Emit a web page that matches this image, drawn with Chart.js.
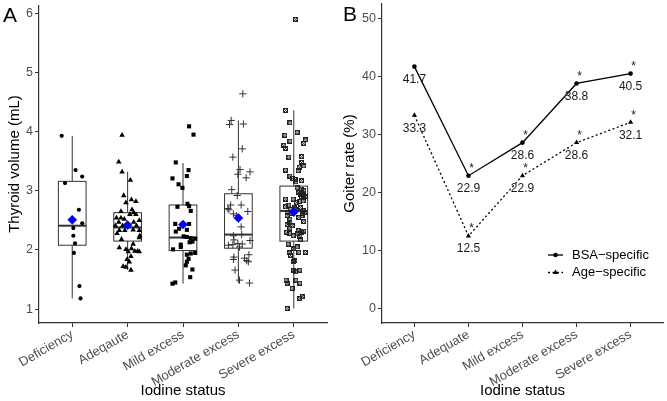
<!DOCTYPE html>
<html><head><meta charset="utf-8">
<script src="https://cdn.jsdelivr.net/npm/chart.js@4.4.0/dist/chart.umd.min.js"></script>
<style>html,body{margin:0;padding:0;background:#fff}
#wrap{position:relative;width:667px;height:401px;background:#fff}
canvas{position:absolute;top:0}
#ca{left:0}#cb{left:333px}</style></head>
<body><div id="wrap"><canvas id="ca" width="333" height="401"></canvas><canvas id="cb" width="334" height="401"></canvas></div>
<script>
const FONT = '"Liberation Sans", Arial, Helvetica, sans-serif';

// ---------- data ----------
const categoriesA = ['Deficiency', 'Adeqaute', 'Mild excess', 'Moderate excess', 'Severe excess'];
const categoriesB = ['Deficiency', 'Adequate', 'Mild excess', 'Moderate excess', 'Severe excess'];
const yTicksA = [1, 2, 3, 4, 5, 6];
const yTicksB = [0, 10, 20, 30, 40, 50];

// thyroid volume (mL) per child, and horizontal jitter (category units)
const volDeficiency = [3.93, 3.35, 3.24, 3.13, 2.68, 2.45, 2.37, 2.24, 2.11, 1.95, 1.39, 1.18];
const jitDeficiency = [-0.19, 0.06, 0.18, -0.13, 0.12, 0.18, 0.02, 0.02, 0.05, 0.03, 0.13, 0.15];

const volAdequate = [3.94, 3.49, 3.32, 3.18, 2.92, 2.85, 2.82, 2.80, 2.65, 2.68, 2.63, 2.60, 2.60, 2.54, 2.54, 2.52, 2.50, 2.47, 2.47, 2.41, 2.41, 2.41, 2.33, 2.33, 2.34, 2.33, 2.28, 2.24, 2.18, 2.21, 2.10, 2.04, 2.01, 2.02, 1.98, 1.98, 1.97, 1.97, 1.89, 1.84, 1.80, 1.72, 1.71, 1.66];
const jitAdequate = [-0.10, -0.16, -0.10, 0.05, -0.07, 0.07, 0.15, -0.03, -0.12, 0.08, 0.11, 0.04, 0.15, -0.20, -0.12, -0.06, 0.21, -0.16, 0.11, -0.22, -0.09, 0.16, -0.15, -0.05, 0.10, 0.21, -0.19, 0.22, -0.11, 0.21, 0.10, -0.15, -0.03, 0.07, 0.13, 0.18, 0.21, 0.01, 0.06, -0.01, 0.03, -0.08, -0.03, 0.06];

const volMild = [4.09, 3.95, 3.48, 3.35, 3.21, 3.25, 3.11, 3.05, 2.78, 2.74, 2.73, 2.66, 2.44, 2.44, 2.36, 2.34, 2.31, 2.23, 2.22, 2.20, 2.19, 2.09, 2.13, 2.14, 2.01, 2.05, 1.92, 1.94, 1.95, 1.80, 1.85, 1.74, 1.67, 1.54, 1.43, 1.45];
const jitMild = [0.11, 0.19, -0.13, 0.10, -0.19, 0.07, -0.08, -0.01, 0.08, 0.11, -0.10, 0.14, -0.14, 0.11, -0.07, 0.07, -0.13, 0.01, 0.07, 0.14, 0.22, -0.04, 0.12, 0.17, -0.18, -0.04, 0.07, 0.14, 0.22, 0.07, 0.10, 0.05, 0.17, 0.13, -0.19, -0.14];

const volModerate = [4.64, 4.19, 4.12, 4.13, 3.71, 3.57, 3.36, 3.32, 3.28, 3.22, 3.02, 2.92, 2.76, 2.76, 2.70, 2.68, 2.65, 2.61, 2.58, 2.39, 2.24, 2.26, 2.17, 2.11, 2.10, 2.16, 2.08, 2.09, 2.05, 1.88, 1.84, 1.86, 1.82, 1.92, 1.80, 1.66, 1.49, 1.44];
const jitModerate = [0.08, -0.13, -0.16, 0.09, 0.07, -0.10, 0.03, 0.21, -0.01, 0.14, -0.12, -0.02, -0.14, 0.05, -0.19, -0.17, 0.17, -0.09, -0.03, 0.05, -0.09, 0.06, -0.08, -0.01, 0.07, 0.21, -0.18, -0.10, 0.02, -0.08, -0.09, 0.11, 0.15, 0.19, 0.18, -0.06, 0.02, 0.20];

const volSevere = [5.90, 4.36, 4.15, 3.99, 3.94, 3.84, 3.86, 3.80, 3.77, 3.72, 3.57, 3.58, 3.48, 3.42, 3.40, 3.35, 3.34, 3.25, 3.21, 3.19, 3.17, 3.15, 3.05, 3.03, 3.01, 2.97, 2.94, 2.92, 2.89, 2.86, 2.86, 2.90, 2.76, 2.82, 2.83, 2.80, 2.73, 2.69, 2.72, 2.66, 2.64, 2.64, 2.71, 2.68, 2.62, 2.58, 2.62, 2.58, 2.55, 2.52, 2.47, 2.43, 2.41, 2.37, 2.48, 2.30, 2.28, 2.33, 2.30, 2.27, 2.32, 2.23, 2.24, 2.17, 2.10, 2.05, 2.02, 1.95, 1.96, 1.96, 1.91, 1.82, 1.80, 1.66, 1.63, 1.66, 1.49, 1.44, 1.49, 1.44, 1.35, 1.18, 1.21, 1.01];
const jitSevere = [0.03, -0.15, -0.07, 0.06, -0.16, -0.07, 0.21, 0.18, -0.18, -0.15, -0.09, 0.14, 0.14, 0.18, 0.10, -0.15, 0.08, -0.07, -0.02, 0.03, 0.14, 0.04, 0.06, 0.14, 0.18, 0.09, 0.12, 0.17, 0.14, -0.15, -0.01, 0.21, -0.09, 0.11, 0.17, 0.05, -0.15, -0.06, 0.12, 0.18, -0.12, 0.21, 0.02, 0.04, -0.05, -0.12, 0.15, 0.15, 0.09, -0.07, -0.07, -0.12, -0.03, -0.07, 0.18, -0.13, -0.07, 0.09, 0.14, 0.06, 0.18, 0.11, -0.01, 0.12, -0.10, 0.06, 0.00, -0.08, 0.09, 0.21, -0.06, 0.02, -0.01, 0.00, 0.04, 0.11, -0.14, -0.12, 0.04, 0.11, -0.03, 0.11, 0.15, -0.12];

// boxplot summary per category
const boxLower = [1.18, 1.66, 1.43, 1.44, 1.01];
const boxQ1 = [2.08, 2.15, 1.99, 2.03, 2.15];
const boxMedian = [2.41, 2.38, 2.21, 2.26, 2.66];
const boxQ3 = [3.16, 2.63, 2.76, 2.95, 3.08];
const boxUpper = [3.93, 3.32, 3.47, 4.19, 4.36];
const groupMeans = [2.51, 2.42, 2.43, 2.54, 2.64];

// goiter rate (%)
const bsaRate = [41.7, 22.9, 28.6, 38.8, 40.5];
const ageRate = [33.3, 12.5, 22.9, 28.6, 32.1];
const bsaStars = ['', '*', '*', '*', '*'];
const ageStars = ['', '*', '*', '*', '*'];

// ---------- helpers ----------
function squareCross() {
  const c = document.createElement('canvas');
  c.width = 5; c.height = 5;
  const g = c.getContext('2d');
  g.strokeStyle = '#222'; g.lineWidth = 1;
  g.strokeRect(0.5, 0.5, 4, 4);
  g.beginPath(); g.moveTo(0.5, 0.5); g.lineTo(4.5, 4.5); g.moveTo(4.5, 0.5); g.lineTo(0.5, 4.5); g.stroke();
  return c;
}
const toPts = (vals, jits, g) => vals.map((v, k) => ({ x: g + 1 + jits[k], y: v }));

function axisCommon(title, titlePad) {
  return {
    grid: { display: true, drawOnChartArea: false, drawTicks: true, tickLength: 4, color: '#333', lineWidth: 1 },
    border: { display: true, color: '#333', width: 1.2 },
    title: { display: true, text: title, color: '#000', font: { family: FONT, size: 15, lineHeight: 1.2 }, padding: titlePad }
  };
}

function xScale(cats) {
  return Object.assign(axisCommon('Iodine status', { top: 0, bottom: 1 }), {
    type: 'linear', min: 0.4, max: 5.6,
    afterBuildTicks: s => { s.ticks = cats.map((c, i) => ({ value: i + 1 })); },
    afterFit: s => { s.height = 78; },
    ticks: { autoSkip: false, minRotation: 30, maxRotation: 30, padding: 0, color: '#4d4d4d',
      font: { family: FONT, size: 13 }, callback: v => cats[v - 1] }
  });
}
function yScale(title, min, max, ticks, width, pad) {
  return Object.assign(axisCommon(title, { top: pad, bottom: 0 }), {
    type: 'linear', min: min, max: max,
    afterBuildTicks: s => { s.ticks = ticks.map(v => ({ value: v })); },
    afterFit: s => { s.width = width; s.paddingTop = 0; s.paddingBottom = 0; },
    ticks: { padding: 2, color: '#4d4d4d', font: { family: FONT, size: 12.5 } }
  });
}
const letterPlugin = (letter, x, y) => ({
  id: 'letter' + letter,
  afterDraw(chart) {
    const ctx = chart.ctx; ctx.save();
    ctx.font = '21px ' + FONT; ctx.fillStyle = '#000'; ctx.textBaseline = 'alphabetic'; ctx.textAlign = 'left';
    ctx.fillText(letter, x, y); ctx.restore();
  }
});

// ---------- panel A ----------
const boxPlugin = {
  id: 'boxes',
  beforeDatasetsDraw(chart) {
    const { ctx, scales: { x, y } } = chart;
    ctx.save();
    ctx.strokeStyle = '#333';
    for (let i = 0; i < boxQ1.length; i++) {
      const cx = x.getPixelForValue(i + 1);
      const xl = x.getPixelForValue(i + 1 - 0.25), xr = x.getPixelForValue(i + 1 + 0.25);
      const p1 = y.getPixelForValue(boxQ1[i]), p3 = y.getPixelForValue(boxQ3[i]);
      const pm = y.getPixelForValue(boxMedian[i]);
      ctx.lineWidth = 1;
      ctx.beginPath();
      ctx.moveTo(cx, y.getPixelForValue(boxUpper[i])); ctx.lineTo(cx, p3);
      ctx.moveTo(cx, p1); ctx.lineTo(cx, y.getPixelForValue(boxLower[i]));
      ctx.stroke();
      ctx.fillStyle = '#fff';
      ctx.fillRect(xl, p3, xr - xl, p1 - p3);
      ctx.strokeRect(xl, p3, xr - xl, p1 - p3);
      ctx.lineWidth = 2;
      ctx.beginPath(); ctx.moveTo(xl, pm); ctx.lineTo(xr, pm); ctx.stroke();
    }
    ctx.restore();
  }
};

const groups = [
  { v: volDeficiency, j: jitDeficiency, style: 'circle', r: 2.1, fill: '#000', border: '#000', bw: 0 },
  { v: volAdequate, j: jitAdequate, style: 'triangle', r: 3.2, fill: '#000', border: '#000', bw: 0 },
  { v: volMild, j: jitMild, style: 'rect', r: 2.9, fill: '#000', border: '#000', bw: 0 },
  { v: volModerate, j: jitModerate, style: 'cross', r: 3.6, fill: '#333', border: '#333', bw: 1 },
  { v: volSevere, j: jitSevere, style: squareCross(), r: 3, fill: '#222', border: '#222', bw: 0 }
];

const dsA = [{
  label: 'mean', data: groupMeans.map((m, i) => ({ x: i + 1, y: m })),
  pointStyle: 'rectRot', pointRadius: 4.6, backgroundColor: '#0000ff', borderColor: '#0000cc', borderWidth: 0.5
}].concat(groups.map((g, i) => ({
  label: categoriesA[i], data: toPts(g.v, g.j, i), pointStyle: g.style, pointRadius: g.r,
  backgroundColor: g.fill, borderColor: g.border, borderWidth: g.bw
})));

new Chart(document.getElementById('ca'), {
  type: 'scatter',
  data: { datasets: dsA },
  options: {
    responsive: false, animation: false, devicePixelRatio: 1,
    layout: { padding: { top: 4, right: 6, left: 0, bottom: 0 } },
    plugins: { legend: { display: false }, tooltip: { enabled: false } },
    scales: { x: xScale(categoriesA), y: yScale('Thyroid volume (mL)', 0.765, 6.14, yTicksA, 39, 6) }
  },
  plugins: [boxPlugin, letterPlugin('A', 3, 22)]
});

// ---------- panel B ----------
const starSets = [bsaStars, ageStars];
const labelPlugin = {
  id: 'vlabels',
  afterDatasetsDraw(chart) {
    const ctx = chart.ctx; ctx.save();
    ctx.fillStyle = '#1a1a1a'; ctx.textAlign = 'center'; ctx.textBaseline = 'middle';
    chart.data.datasets.forEach((ds, d) => {
      chart.getDatasetMeta(d).data.forEach((pt, k) => {
        ctx.font = '12px ' + FONT;
        ctx.fillText(ds.data[k].y.toFixed(1), pt.x, pt.y + 13);
        if (starSets[d][k]) { ctx.font = '12px ' + FONT; ctx.fillText(starSets[d][k], pt.x + 3, pt.y - 7); }
      });
    });
    ctx.restore();
  }
};
const legendPlugin = {
  id: 'ilegend',
  afterDraw(chart) {
    const { ctx, chartArea } = chart; ctx.save();
    chart.data.datasets.forEach((ds, d) => {
      const yy = chartArea.bottom - 68 + d * 17.5;
      const x0 = chartArea.right - 115, x1 = chartArea.right - 100;
      ctx.strokeStyle = ds.borderColor; ctx.lineWidth = ds.borderWidth; ctx.setLineDash(ds.borderDash || []);
      ctx.beginPath(); ctx.moveTo(x0, yy); ctx.lineTo(x1, yy); ctx.stroke();
      ctx.setLineDash([]);
      ctx.fillStyle = '#000';
      Chart.helpers.drawPoint(ctx, { pointStyle: ds.pointStyle, radius: ds.pointRadius, borderWidth: 0 }, (x0 + x1) / 2, yy);
      ctx.font = '13px ' + FONT; ctx.textAlign = 'left'; ctx.textBaseline = 'middle';
      ctx.fillText(ds.label, chartArea.right - 91, yy);
    });
    ctx.restore();
  }
};

new Chart(document.getElementById('cb'), {
  type: 'line',
  data: {
    datasets: [
      { label: 'BSA\u2212specific', data: bsaRate.map((v, i) => ({ x: i + 1, y: v })), borderColor: '#000', backgroundColor: '#000',
        borderWidth: 1.3, pointStyle: 'circle', pointRadius: 2.3, pointBorderWidth: 0, tension: 0 },
      { label: 'Age\u2212specific', data: ageRate.map((v, i) => ({ x: i + 1, y: v })), borderColor: '#000', backgroundColor: '#000',
        borderWidth: 1.3, borderDash: [2, 2.5], pointStyle: 'triangle', pointRadius: 3, pointBorderWidth: 0, tension: 0 }
    ]
  },
  options: {
    responsive: false, animation: false, devicePixelRatio: 1,
    layout: { padding: { top: 4, right: 4, left: 0, bottom: 0 } },
    plugins: { legend: { display: false }, tooltip: { enabled: false } },
    scales: { x: xScale(categoriesB), y: yScale('Goiter rate (%)', -2.5, 52.5, yTicksB, 49, 8) }
  },
  plugins: [labelPlugin, legendPlugin, letterPlugin('B', 10, 21)]
});
</script></body></html>
